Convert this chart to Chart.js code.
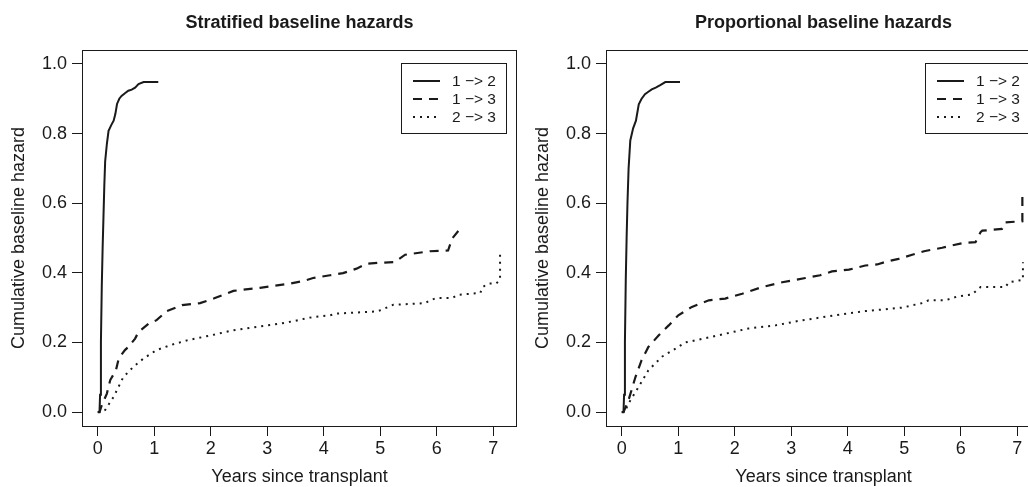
<!DOCTYPE html>
<html>
<head>
<meta charset="utf-8">
<script src="https://cdn.jsdelivr.net/npm/chart.js@4/dist/chart.umd.min.js"></script>
<style>
  html, body { margin: 0; padding: 0; background: #fff; }
  #wrap { position: relative; width: 1028px; height: 487px; overflow: hidden; }
  canvas { position: absolute; top: 0; }
  #left { left: 0; }
  #right { left: 524px; }
</style>
</head>
<body>
<div id="wrap">
  <canvas id="left" width="520" height="487"></canvas>
  <canvas id="right" width="520" height="487"></canvas>
</div>
<script>
// tick labels and names
const xTicks = [0, 1, 2, 3, 4, 5, 6, 7];
const yTicks = [0, 0.2, 0.4, 0.6, 0.8, 1.0];
const seriesNames = ['1 −> 2', '1 −> 3', '2 −> 3'];
const panelTitles = ['Stratified baseline hazards', 'Proportional baseline hazards'];

// stratified panel
const strat12Years = [0, 0.03, 0.04, 0.055, 0.07, 0.085, 0.1, 0.115, 0.13, 0.16, 0.19, 0.24, 0.28, 0.31, 0.34, 0.38, 0.42, 0.48, 0.54, 0.6, 0.66, 0.72, 0.81, 1.07];
const strat12Haz = [0, 0, 0.05, 0.2, 0.36, 0.47, 0.56, 0.65, 0.72, 0.77, 0.808, 0.825, 0.837, 0.856, 0.885, 0.9, 0.908, 0.916, 0.923, 0.926, 0.932, 0.942, 0.948, 0.948];
const strat13Years = [0, 0.03, 0.07, 0.16, 0.22, 0.32, 0.37, 0.48, 0.54, 0.66, 0.72, 0.9, 1.04, 1.22, 1.49, 1.81, 2.05, 2.4, 2.87, 3.41, 3.67, 3.81, 4.11, 4.34, 4.58, 4.76, 5.0, 5.26, 5.44, 5.88, 6.2, 6.27, 6.38, 6.42];
const strat13Haz = [0, 0, 0.02, 0.053, 0.092, 0.12, 0.154, 0.178, 0.187, 0.211, 0.23, 0.254, 0.264, 0.29, 0.307, 0.313, 0.326, 0.348, 0.357, 0.369, 0.378, 0.385, 0.393, 0.399, 0.412, 0.426, 0.429, 0.431, 0.452, 0.462, 0.464, 0.498, 0.52, 0.527];
const strat23Years = [0, 0.05, 0.13, 0.28, 0.45, 0.63, 0.81, 1.04, 1.28, 1.58, 1.99, 2.4, 2.99, 3.23, 3.49, 3.73, 4.11, 4.23, 4.94, 5.03, 5.14, 5.23, 5.79, 5.88, 6.0, 6.28, 6.38, 6.77, 6.81, 6.91, 7.05, 7.12, 7.12];
const strat23Haz = [0, 0, 0.006, 0.044, 0.1, 0.13, 0.154, 0.178, 0.192, 0.206, 0.22, 0.235, 0.249, 0.254, 0.262, 0.271, 0.278, 0.283, 0.289, 0.294, 0.302, 0.308, 0.313, 0.321, 0.328, 0.328, 0.337, 0.342, 0.359, 0.369, 0.369, 0.38, 0.455];

// proportional panel
const prop12Years = [0, 0.03, 0.04, 0.055, 0.07, 0.085, 0.1, 0.12, 0.15, 0.2, 0.25, 0.3, 0.35, 0.41, 0.47, 0.53, 0.6, 0.68, 0.77, 1.03];
const prop12Haz = [0, 0, 0.05, 0.2, 0.38, 0.5, 0.6, 0.7, 0.78, 0.815, 0.837, 0.884, 0.9, 0.913, 0.92, 0.927, 0.932, 0.939, 0.948, 0.948];
const prop13Years = [0, 0.03, 0.12, 0.24, 0.35, 0.47, 0.65, 0.83, 1.0, 1.24, 1.54, 1.83, 2.13, 2.48, 2.84, 3.25, 3.51, 3.72, 4.02, 4.31, 4.52, 4.7, 4.9, 5.14, 5.35, 5.67, 5.85, 6.06, 6.26, 6.35, 6.38, 6.73, 6.79, 7.09, 7.09];
const prop13Haz = [0, 0, 0.035, 0.1, 0.149, 0.187, 0.22, 0.249, 0.278, 0.302, 0.321, 0.326, 0.34, 0.359, 0.373, 0.385, 0.393, 0.404, 0.409, 0.421, 0.424, 0.433, 0.44, 0.452, 0.462, 0.472, 0.479, 0.486, 0.488, 0.517, 0.521, 0.526, 0.545, 0.548, 0.636];
const prop23Years = [0, 0.05, 0.12, 0.3, 0.47, 0.71, 0.95, 1.12, 1.42, 1.83, 2.24, 2.72, 3.13, 3.78, 4.31, 4.96, 5.32, 5.43, 5.73, 5.94, 6.2, 6.35, 6.79, 6.85, 7.03, 7.1, 7.1];
const prop23Haz = [0, 0, 0.025, 0.073, 0.12, 0.159, 0.182, 0.2, 0.21, 0.225, 0.24, 0.249, 0.262, 0.278, 0.29, 0.3, 0.313, 0.321, 0.321, 0.332, 0.338, 0.359, 0.359, 0.373, 0.378, 0.38, 0.43];

const FONT = '"Liberation Sans", Arial, Helvetica, sans-serif';
const INK = '#1a1a1a';
const lineStyles = [
  { borderWidth: 2, borderDash: [] },
  { borderWidth: 2.2, borderDash: [9, 7] },
  { borderWidth: 2, borderDash: [2, 5] },
];

function pts(xs, ys) {
  return xs.map((x, i) => ({ x: x, y: ys[i] }));
}

// frame, title and legend drawn on top of the chart area
const extras = {
  id: 'extras',
  afterDraw(chart, args, opts) {
    const ctx = chart.ctx;
    const a = chart.chartArea;
    ctx.save();
    ctx.strokeStyle = INK;
    ctx.lineWidth = 1;
    ctx.strokeRect(a.left + 0.5, a.top + 0.5, a.right - a.left - 1, a.bottom - a.top);

    ctx.fillStyle = INK;
    ctx.font = 'bold 18px ' + FONT;
    ctx.textAlign = 'center';
    ctx.textBaseline = 'alphabetic';
    ctx.fillText(opts.title, (a.left + a.right) / 2, 28);

    // legend box
    const bx = a.left + 319, by = a.top + 13, bw = 105, bh = 70;
    ctx.fillStyle = '#fff';
    ctx.fillRect(bx, by, bw, bh);
    ctx.strokeRect(bx + 0.5, by + 0.5, bw, bh);
    ctx.font = '15.5px ' + FONT;
    ctx.textAlign = 'left';
    ctx.textBaseline = 'middle';
    chart.data.datasets.forEach((ds, i) => {
      const y = by + 18 + i * 18;
      ctx.beginPath();
      ctx.lineWidth = ds.borderWidth;
      ctx.setLineDash(ds.borderDash);
      ctx.moveTo(bx + 12, y);
      ctx.lineTo(bx + 39, y);
      ctx.stroke();
      ctx.setLineDash([]);
      ctx.fillStyle = INK;
      ctx.fillText(ds.label, bx + 51, y + 1);
    });
    ctx.restore();
  }
};

function makePanel(id, title, series) {
  new Chart(document.getElementById(id), {
    type: 'scatter',
    data: {
      datasets: series.map((s, i) => ({
        label: seriesNames[i],
        data: pts(s[0], s[1]),
        showLine: true,
        pointRadius: 0,
        borderColor: INK,
        borderWidth: lineStyles[i].borderWidth,
        borderDash: lineStyles[i].borderDash,
        borderCapStyle: 'butt',
        tension: 0,
      }))
    },
    options: {
      responsive: false,
      animation: false,
      devicePixelRatio: 1,
      layout: { padding: { top: 50, right: 3, left: 0, bottom: 0 } },
      plugins: {
        legend: { display: false },
        tooltip: { enabled: false },
        extras: { title: title },
      },
      scales: {
        x: {
          type: 'linear',
          min: -0.28,
          max: 7.42,
          afterBuildTicks: sc => { sc.ticks = xTicks.map(v => ({ value: v })); },
          afterFit: sc => { sc.height = 61; },
          grid: { display: true, drawOnChartArea: false, color: INK, tickLength: 10 },
          border: { display: false },
          ticks: { color: INK, font: { family: FONT, size: 18 }, padding: 2, maxRotation: 0,
                   callback: v => String(v) },
          title: { display: true, text: 'Years since transplant', color: INK,
                   font: { family: FONT, size: 18, lineHeight: 1.1 }, padding: 0 },
        },
        y: {
          type: 'linear',
          min: -0.04,
          max: 1.04,
          afterBuildTicks: sc => { sc.ticks = yTicks.map(v => ({ value: v })); },
          afterFit: sc => { sc.width = 82; },
          grid: { display: true, drawOnChartArea: false, color: INK, tickLength: 10 },
          border: { display: false },
          ticks: { color: INK, font: { family: FONT, size: 18 }, padding: 5,
                   callback: v => v.toFixed(1) },
          title: { display: true, text: 'Cumulative baseline hazard', color: INK,
                   font: { family: FONT, size: 18 }, padding: { top: 8, bottom: 0 } },
        }
      }
    },
    plugins: [extras]
  });
}

makePanel('left', panelTitles[0], [
  [strat12Years, strat12Haz],
  [strat13Years, strat13Haz],
  [strat23Years, strat23Haz],
]);
makePanel('right', panelTitles[1], [
  [prop12Years, prop12Haz],
  [prop13Years, prop13Haz],
  [prop23Years, prop23Haz],
]);
</script>
</body>
</html>
